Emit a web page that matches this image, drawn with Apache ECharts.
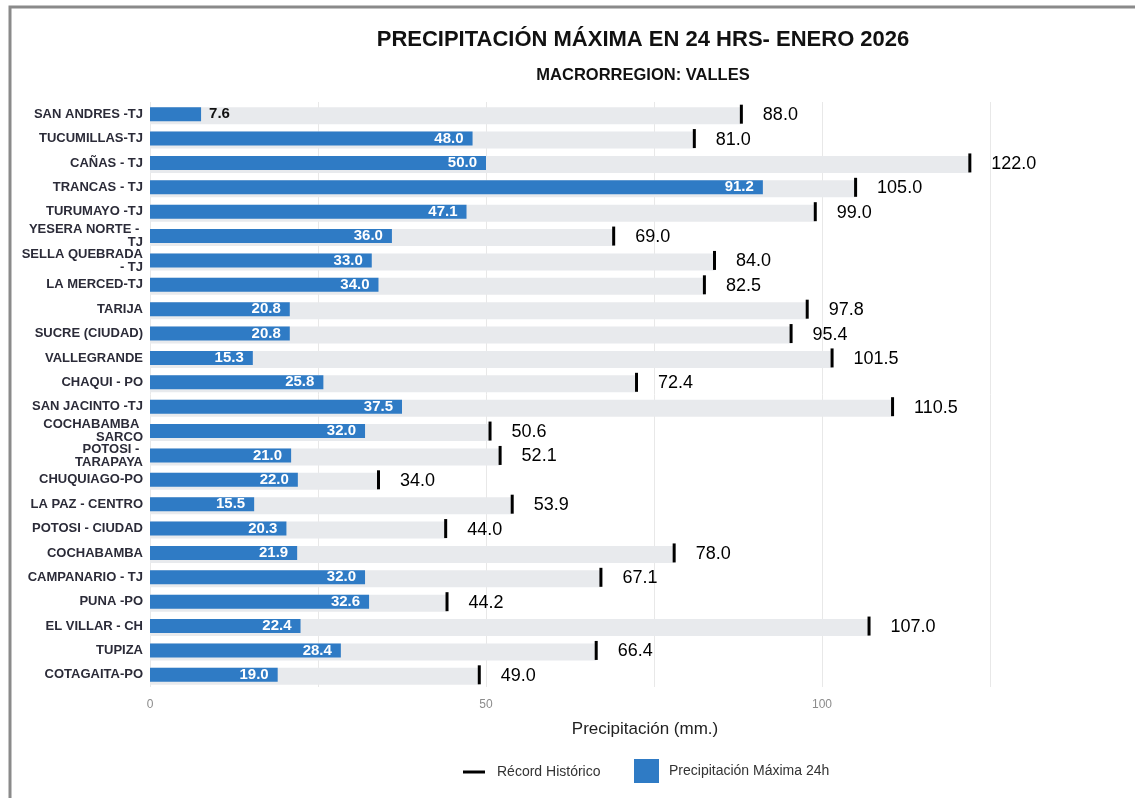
<!DOCTYPE html>
<html>
<head>
<meta charset="utf-8">
<script src="https://cdn.jsdelivr.net/npm/echarts@6/dist/echarts.min.js"></script>
<style>
  html, body { margin: 0; padding: 0; background: #fff; }
  #chart { width: 1135px; height: 798px; }
</style>
</head>
<body>
<div id="chart"></div>
<script>
// estaciones, de arriba hacia abajo
const estaciones = [
  'SAN ANDRES -TJ', 'TUCUMILLAS-TJ', 'CAÑAS - TJ', 'TRANCAS - TJ', 'TURUMAYO -TJ',
  'YESERA NORTE - TJ', 'SELLA QUEBRADA - TJ', 'LA MERCED-TJ', 'TARIJA', 'SUCRE (CIUDAD)',
  'VALLEGRANDE', 'CHAQUI - PO', 'SAN JACINTO -TJ', 'COCHABAMBA SARCO', 'POTOSI - TARAPAYA',
  'CHUQUIAGO-PO', 'LA PAZ - CENTRO', 'POTOSI - CIUDAD', 'COCHABAMBA', 'CAMPANARIO - TJ',
  'PUNA -PO', 'EL VILLAR - CH', 'TUPIZA', 'COTAGAITA-PO'
];
const precipMax24h = [
  7.6, 48.0, 50.0, 91.2, 47.1, 36.0, 33.0, 34.0, 20.8, 20.8, 15.3, 25.8,
  37.5, 32.0, 21.0, 22.0, 15.5, 20.3, 21.9, 32.0, 32.6, 22.4, 28.4, 19.0
];
const recordHistorico = [
  88.0, 81.0, 122.0, 105.0, 99.0, 69.0, 84.0, 82.5, 97.8, 95.4, 101.5, 72.4,
  110.5, 50.6, 52.1, 34.0, 53.9, 44.0, 78.0, 67.1, 44.2, 107.0, 66.4, 49.0
];
const xTicks = [0, 50, 100];

const FONT = '"Liberation Sans", Arial, sans-serif';
const AZUL = '#2f7bc5';

let chart = echarts.init(document.getElementById('chart'), null, { renderer: 'canvas' });

// barras cortas: etiqueta afuera
const precipData = precipMax24h.map(v => v < 10 ? {
  value: v,
  label: { position: 'right', distance: 8, color: '#111' }
} : v);

chart.setOption({
  backgroundColor: '#fff',
  animation: false,
  textStyle: { fontFamily: FONT },
  graphic: [
    { type: 'rect', shape: { x: 10, y: 7, width: 1200, height: 900 },
      style: { fill: 'none', stroke: '#8a8a8a', lineWidth: 3 }, silent: true },
    { type: 'text', x: 643, y: 40,
      style: { text: 'PRECIPITACIÓN MÁXIMA EN 24 HRS- ENERO 2026', align: 'center', verticalAlign: 'middle',
        fontFamily: FONT, fontWeight: 'bold', fontSize: 22, fill: '#111' } },
    { type: 'text', x: 643, y: 75,
      style: { text: 'MACRORREGION: VALLES', align: 'center', verticalAlign: 'middle',
        fontFamily: FONT, fontWeight: 'bold', fontSize: 16.5, fill: '#111' } }
  ],
  legend: [
    {
      data: [{ name: 'Récord Histórico', icon: 'rect' }],
      left: 463, top: 765, padding: 0,
      itemWidth: 22, itemHeight: 3,
      textStyle: { fontSize: 14, color: '#333', padding: [0, 0, 0, 7] }
    },
    {
      data: [{ name: 'Precipitación Máxima 24h', icon: 'rect' }],
      left: 634, top: 759, padding: 0,
      itemWidth: 25, itemHeight: 24,
      textStyle: { fontSize: 14, color: '#333', padding: [0, 0, 0, 5] }
    }
  ],
  grid: { left: 150, right: 145, top: 102, bottom: 111 },
  xAxis: {
    type: 'value',
    min: 0, max: 125, interval: 25,
    name: 'Precipitación (mm.)',
    nameLocation: 'middle',
    nameGap: 34,
    nameTextStyle: { fontSize: 17, color: '#222', padding: [0, 0, 0, 150] },
    axisLine: { show: false },
    axisTick: { show: false },
    axisLabel: {
      color: '#8c8c8c', fontSize: 12, margin: 12,
      formatter: v => xTicks.includes(v) ? String(v) : ''
    },
    splitLine: { lineStyle: { color: '#e8e8e8', width: 1 } }
  },
  yAxis: {
    type: 'category',
    inverse: true,
    data: estaciones,
    axisLine: { show: false },
    axisTick: { show: false },
    axisLabel: {
      interval: 0,
      margin: 7,
      fontSize: 13,
      fontWeight: 'bold',
      color: '#2b2b38',
      width: 123,
      overflow: 'break',
      lineHeight: 13
    }
  },
  series: [
    {
      name: 'fondo',
      type: 'bar',
      data: recordHistorico,
      barWidth: 17,
      barGap: '-100%',
      itemStyle: { color: '#e8eaed' },
      silent: true
    },
    {
      name: 'Precipitación Máxima 24h',
      type: 'bar',
      data: precipData,
      barWidth: 14,
      barGap: '-100%',
      itemStyle: { color: AZUL },
      label: {
        show: true,
        position: 'insideRight',
        distance: 9,
        color: '#fff',
        fontWeight: 'bold',
        fontSize: 15,
        formatter: p => p.value.toFixed(1)
      },
      z: 3
    },
    {
      name: 'Récord Histórico',
      type: 'scatter',
      data: recordHistorico.map((v, i) => [v, estaciones[i]]),
      symbol: 'rect',
      symbolSize: [3, 19],
      itemStyle: { color: '#000', opacity: 1 },
      label: {
        show: true,
        position: 'right',
        distance: 20,
        color: '#000',
        fontSize: 18,
        offset: [0, 1],
        formatter: p => p.value[0].toFixed(1)
      },
      z: 4
    }
  ]
});
</script>
</body>
</html>
